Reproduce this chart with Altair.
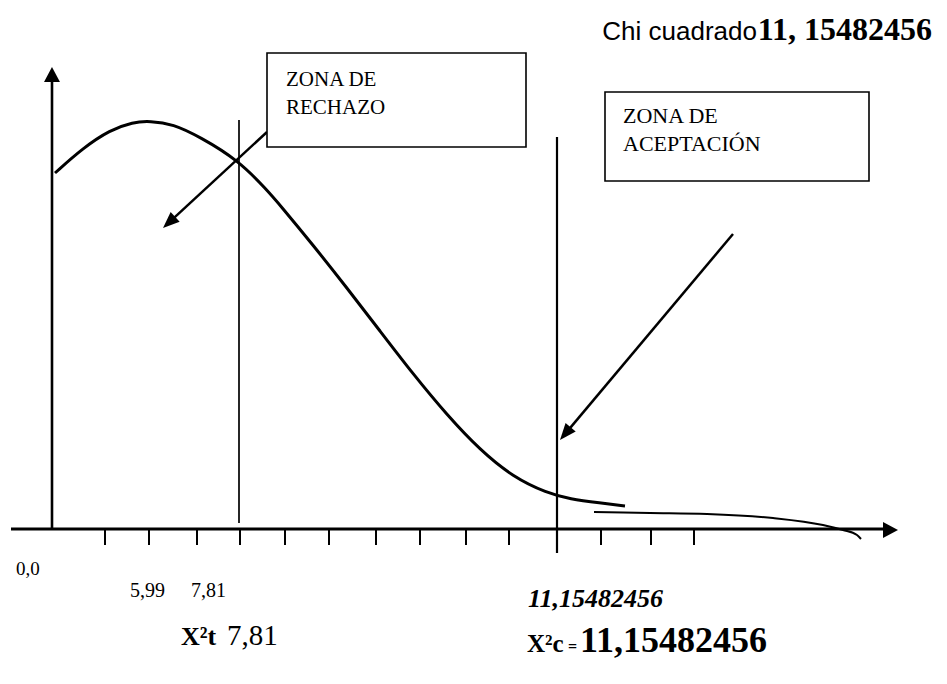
import altair as alt
import pandas as pd
import math

# ---- diagram frame (page-pixel like units, y grows downward) ----
W, H = 931, 668
X_DOM = [8, 8 + W]
Y_DOM = [8, 8 + H]

# ---- data ----
# main bell-like curve
curve_x = [55, 83, 110, 133, 150, 173, 200, 238, 267, 280, 313, 347, 380, 413, 447, 480, 513, 547, 570, 600, 625]
curve_y = [173, 148, 130, 122, 121, 124, 137, 160, 190, 205, 245, 288, 331, 374, 415, 450, 477, 493, 499, 503, 506]
# thin tail
tail_x = [594, 650, 707, 773, 823, 843, 857, 861]
tail_y = [512, 513, 514, 518, 525, 530, 535, 539]

# tick marks on the horizontal axis
tick_x = [105, 149, 197, 240, 285, 329, 376, 420, 466, 509, 601, 651, 694]
tick_top, tick_bottom = 529, 545

# axis and reference lines: x, y, x2, y2, width
line_x1 = [11, 52, 239, 557]
line_y1 = [529, 529, 523, 553]
line_x2 = [888, 52, 239, 557]
line_y2 = [529, 80, 120, 137]
line_w = [3, 2.6, 1.7, 2.2]

# axis arrowheads (tip positions, rotation)
axhead_x = [52, 898]
axhead_y = [67, 530]
axhead_angle = [0, 90]

# pointer arrows: start and tip
arrow_x1 = [267, 733]
arrow_y1 = [132, 234]
arrow_x2 = [163, 560]
arrow_y2 = [228, 440]

# text boxes
box_x1 = [267, 605]
box_y1 = [53, 92]
box_x2 = [526, 869]
box_y2 = [147, 181]

# labels
lab_text = ["ZONA DE", "RECHAZO", "ZONA DE", "ACEPTACIÓN",
            "Chi cuadrado", "11, 15482456",
            "0,0", "5,99", "7,81", "11,15482456",
            "X²t", "7,81", "X²c", "=", "11,15482456"]
lab_x = [286, 286, 623, 623, 757, 932, 16, 130, 191, 528, 181, 227, 527, 568, 580]
lab_y = [86, 114, 123, 151, 40, 40, 575, 597, 597, 607, 645, 645, 652, 652, 652]
lab_size = [21, 21, 22, 22, 26, 32, 19, 20, 20, 26, 26, 29, 25, 16, 36]
lab_font = ["Liberation Serif"] * 4 + ["Liberation Sans", "Liberation Serif"] + ["Liberation Serif"] * 9
lab_weight = ["normal"] * 4 + ["normal", "bold"] + ["normal"] * 3 + ["bold", "bold", "normal", "bold", "bold", "bold"]
lab_style = ["normal"] * 9 + ["italic"] + ["normal"] * 5
lab_align = ["left"] * 4 + ["right", "right"] + ["left"] * 9

# ---- scales ----
xs = alt.Scale(domain=X_DOM, nice=False, zero=False)
ys = alt.Scale(domain=Y_DOM, nice=False, zero=False, reverse=True)
ax = None


def X(f):
    return alt.X(f, type="quantitative", scale=xs, axis=ax)


def Y(f):
    return alt.Y(f, type="quantitative", scale=ys, axis=ax)


layers = []

# curves
curve_df = pd.DataFrame({"x": curve_x, "y": curve_y, "i": range(len(curve_x))})
layers.append(alt.Chart(curve_df).mark_line(color="black", strokeWidth=3, interpolate="basis").encode(
    x=X("x"), y=Y("y"), order="i:Q"))
tail_df = pd.DataFrame({"x": tail_x, "y": tail_y, "i": range(len(tail_x))})
layers.append(alt.Chart(tail_df).mark_line(color="black", strokeWidth=2, interpolate="monotone").encode(
    x=X("x"), y=Y("y"), order="i:Q"))

# ticks
tick_df = pd.DataFrame({"x": tick_x, "y": [tick_top] * len(tick_x), "y2": [tick_bottom] * len(tick_x)})
layers.append(alt.Chart(tick_df).mark_rule(color="black", strokeWidth=2).encode(
    x=X("x"), y=Y("y"), y2="y2"))

# axis & reference lines
for i in range(len(line_x1)):
    d = pd.DataFrame({"x": [line_x1[i]], "y": [line_y1[i]], "x2": [line_x2[i]], "y2": [line_y2[i]]})
    layers.append(alt.Chart(d).mark_rule(color="black", strokeWidth=line_w[i]).encode(
        x=X("x"), y=Y("y"), x2="x2", y2="y2"))

# pointer arrow shafts (shortened a little so the tip stays sharp)
sx, sy, ex, ey, ang = [], [], [], [], []
for a, b, c, d in zip(arrow_x1, arrow_y1, arrow_x2, arrow_y2):
    L = math.hypot(c - a, d - b)
    ux, uy = (c - a) / L, (d - b) / L
    sx.append(a); sy.append(b); ex.append(c - 8 * ux); ey.append(d - 8 * uy)
    ang.append((math.degrees(math.atan2(ux, -uy)) + 360) % 360)
shaft_df = pd.DataFrame({"x": sx, "y": sy, "x2": ex, "y2": ey})
layers.append(alt.Chart(shaft_df).mark_rule(color="black", strokeWidth=2.5).encode(
    x=X("x"), y=Y("y"), x2="x2", y2="y2"))

head_df = pd.DataFrame({"x": arrow_x2, "y": arrow_y2, "a": ang})
layers.append(alt.Chart(head_df).mark_point(
    shape="M0,0L0.5,1.25L-0.5,1.25Z", filled=True, color="black", opacity=1, size=700, strokeWidth=0
).encode(x=X("x"), y=Y("y"), angle=alt.Angle("a:Q", scale=None)))

axhead_df = pd.DataFrame({"x": axhead_x, "y": axhead_y, "a": axhead_angle})
layers.append(alt.Chart(axhead_df).mark_point(
    shape="M0,0L0.57,1.07L-0.57,1.07Z", filled=True, color="black", opacity=1, size=784, strokeWidth=0
).encode(x=X("x"), y=Y("y"), angle=alt.Angle("a:Q", scale=None)))

# boxes
box_df = pd.DataFrame({"x": box_x1, "y": box_y1, "x2": box_x2, "y2": box_y2})
layers.append(alt.Chart(box_df).mark_rect(fill="white", stroke="black", strokeWidth=1.6).encode(
    x=X("x"), y=Y("y"), x2="x2", y2="y2"))

# labels
for i in range(len(lab_text)):
    d = pd.DataFrame({"x": [lab_x[i]], "y": [lab_y[i]], "t": [lab_text[i]]})
    layers.append(alt.Chart(d).mark_text(
        font=lab_font[i], fontSize=lab_size[i], fontWeight=lab_weight[i], fontStyle=lab_style[i],
        align=lab_align[i], baseline="alphabetic", color="black"
    ).encode(x=X("x"), y=Y("y"), text="t:N"))

chart = alt.layer(*layers).properties(
    width=W, height=H, padding=0, autosize=alt.AutoSizeParams(type="none"),
    background="white"
).configure_view(stroke=None)

chart.save("out.html", embed_options={"renderer": "svg", "actions": False})
